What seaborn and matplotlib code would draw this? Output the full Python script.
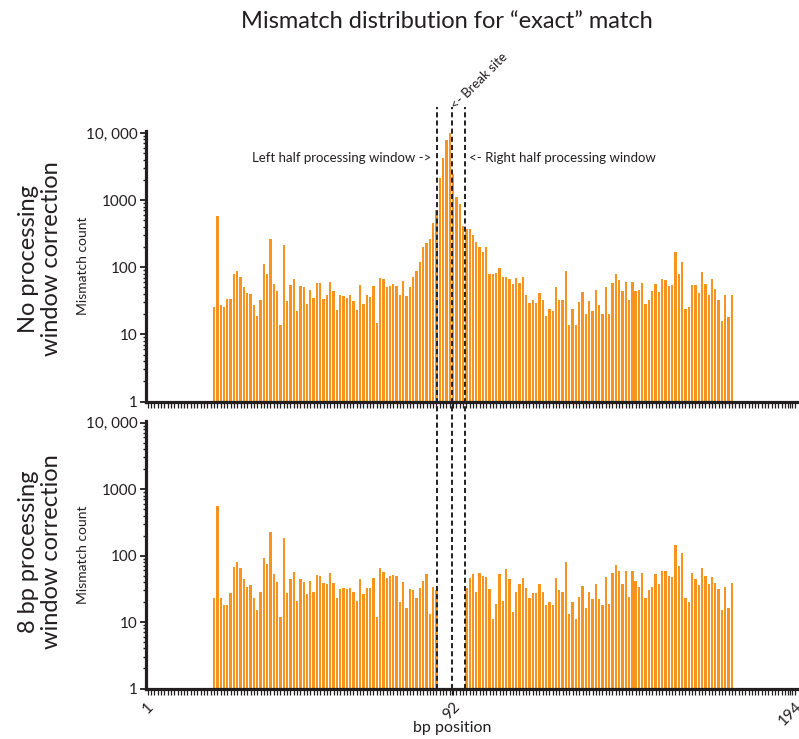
import numpy as np
import pandas as pd
import matplotlib
matplotlib.use("Agg")
import matplotlib.pyplot as plt
import matplotlib.transforms as mtransforms
from matplotlib.lines import Line2D
from matplotlib.ticker import FixedLocator, FixedFormatter, MultipleLocator, LogLocator, NullFormatter
import seaborn as sns

# ---------------- data ----------------
TITLE = "Mismatch distribution for \u201cexact\u201d match"
FIRST_POS = 21  # first bp position with a bar

# no processing window correction: positions 21..177
TOP_COUNTS = [
    26, 575, 27, 26, 34, 34, 78, 88, 72, 51,
    41, 40, 27, 19, 32, 112, 80, 260, 57, 45,
    14, 211, 31, 54, 66, 22, 52, 50, 28, 46,
    35, 59, 59, 34, 38, 61, 45, 23, 39, 37,
    35, 38, 31, 23, 55, 28, 38, 36, 52, 15,
    68, 67, 50, 53, 57, 53, 39, 63, 37, 51,
    71, 88, 120, 200, 228, 265, 457, 717, 2160, 4200,
    7940, 10000, 2480, 1110, 870, 407, 375, 375, 300, 237,
    200, 168, 198, 80, 80, 83, 98, 71, 72, 67,
    57, 69, 59, 72, 38, 29, 32, 29, 41, 32,
    19, 24, 22, 51, 32, 32, 88, 14, 24, 14,
    30, 43, 20, 31, 22, 46, 27, 20, 50, 20,
    58, 80, 65, 45, 60, 32, 60, 45, 46, 59,
    28, 32, 45, 57, 43, 67, 64, 52, 54, 170,
    78, 119, 24, 26, 55, 54, 42, 86, 56, 38,
    66, 47, 32, 16, 38, 18, 39,
]

# 8 bp processing window correction: positions 21..88 and 97..177
BOTTOM_LEFT_COUNTS = [
    23, 562, 23, 18, 18, 27, 68, 79, 65, 45,
    34, 36, 23, 15, 28, 92, 75, 225, 52, 40,
    12, 182, 27, 45, 56, 21, 44, 40, 26, 41,
    28, 51, 50, 39, 37, 54, 39, 23, 31, 33,
    31, 32, 28, 21, 45, 26, 33, 32, 46, 12,
    65, 56, 46, 50, 51, 50, 20, 40, 16, 31,
    30, 23, 32, 42, 53, 13, 34, 30,
]
BOTTOM_RIGHT_START = 97
BOTTOM_RIGHT_COUNTS = [
    32, 46, 53, 28, 54, 49, 48, 31, 11, 19,
    52, 21, 63, 45, 14, 28, 37, 46, 32, 23,
    27, 27, 37, 28, 18, 20, 18, 46, 30, 28,
    80, 13, 20, 11, 24, 35, 16, 28, 22, 37,
    22, 18, 48, 19, 55, 71, 58, 38, 58, 24,
    58, 41, 34, 55, 23, 30, 34, 53, 37, 59,
    58, 49, 47, 145, 70, 110, 23, 20, 55, 45,
    36, 65, 50, 37, 48, 39, 31, 15, 34, 16, 39,
]

WINDOW_LINES = [88.2, 92.6, 96.6]       # left window edge, break site, right window edge
XTICK_POS = [1, 92.6, 194.5]
XTICK_LABELS = ["1", "92", "194"]
YTICKS = [1, 10, 100, 1000, 10000]
YTICK_LABELS = ["1", "10", "100", "1000", "10, 000"]
PANEL_LABELS = ["No processing\nwindow correction", "8 bp processing\nwindow correction"]

top_df = pd.DataFrame({"pos": np.arange(FIRST_POS, FIRST_POS + len(TOP_COUNTS)),
                       "count": TOP_COUNTS})
bot_df = pd.DataFrame({
    "pos": np.concatenate([np.arange(FIRST_POS, FIRST_POS + len(BOTTOM_LEFT_COUNTS)),
                           np.arange(BOTTOM_RIGHT_START, BOTTOM_RIGHT_START + len(BOTTOM_RIGHT_COUNTS))]),
    "count": BOTTOM_LEFT_COUNTS + BOTTOM_RIGHT_COUNTS,
})

# ---------------- style ----------------
sns.set_style("ticks")
FONT = ["Lato", "DejaVu Sans"]
plt.rcParams["font.family"] = FONT
INK = "#231F20"
ORANGE = "#F7931E"

W, H = 799, 739
fig = plt.figure(figsize=(W / 100, H / 100), dpi=100)

def frac_box(left, top, right, bottom):
    return [left / W, 1 - bottom / H, (right - left) / W, (bottom - top) / H]

ax1 = fig.add_axes(frac_box(146, 130.7, 797, 401.5))
ax2 = fig.add_axes(frac_box(146, 420.5, 797, 688.5))

for ax, df in ((ax1, top_df), (ax2, bot_df)):
    sns.barplot(data=df, x="pos", y="count", native_scale=True, color=ORANGE,
                saturation=1, width=0.7, errorbar=None, linewidth=0, ax=ax)
    ax.set_yscale("log")
    ax.set_ylim(1, 10800)
    ax.set_xlim(0.5, 196.6)
    for s in ("top", "right"):
        ax.spines[s].set_visible(False)
    for s in ("left", "bottom"):
        ax.spines[s].set_linewidth(2.3)
        ax.spines[s].set_color(INK)
    ax.yaxis.set_major_locator(FixedLocator(YTICKS))
    ax.yaxis.set_major_formatter(FixedFormatter(YTICK_LABELS))
    ax.yaxis.set_minor_locator(LogLocator(base=10, subs=np.arange(2, 10)))
    ax.yaxis.set_minor_formatter(NullFormatter())
    ax.tick_params(axis="y", which="major", direction="out", length=4, width=1.3,
                   color=INK, labelsize=11, labelcolor=INK, pad=2)
    ax.tick_params(axis="y", which="minor", direction="out", length=2.5, width=1.0, color=INK)
    ax.xaxis.set_major_locator(FixedLocator(XTICK_POS))
    ax.xaxis.set_minor_locator(MultipleLocator(1))
    ax.tick_params(axis="x", which="both", direction="out", length=4, width=0.9, color=INK)
    ax.set_ylabel("Mismatch count", fontsize=10, color=INK)
    ax.yaxis.set_label_coords(-0.088, 0.5)

ax1.set_xticklabels([])
ax1.set_xlabel("")
ax2.set_xticklabels(XTICK_LABELS, rotation=45, ha="center", va="top", fontsize=11, color=INK)
ax2.tick_params(axis="x", which="major", pad=4)
ax2.set_xlabel("bp position", fontsize=11.5, color=INK)
ax2.xaxis.set_label_coords(0.47, -0.122)

# dashed window / break-site lines spanning both panels
trans = mtransforms.blended_transform_factory(ax2.transData, fig.transFigure)
for xv in WINDOW_LINES:
    fig.add_artist(Line2D([xv, xv], [1 - 688.5 / H, 1 - 107 / H], transform=trans,
                          color=INK, lw=1.4, linestyle=(0, (2.6, 1.6))))

# texts
fig.text(447 / W, 1 - 22 / H, TITLE, ha="center", va="center", fontsize=17, color=INK)
fig.text(431 / W, 1 - 158 / H, "Left half processing window ->", ha="right", va="center",
         fontsize=9.5, color=INK)
fig.text(469 / W, 1 - 158 / H, "<- Right half processing window", ha="left", va="center",
         fontsize=9.5, color=INK)
fig.text(457 / W, 1 - 111 / H, "<- Break site", ha="left", va="bottom", rotation=45,
         rotation_mode="anchor", fontsize=9.5, color=INK)
fig.text(40 / W, 1 - 259 / H, PANEL_LABELS[0], ha="center", va="center", rotation=90,
         fontsize=17, color=INK, multialignment="center", linespacing=1.15)
fig.text(40 / W, 1 - 552 / H, PANEL_LABELS[1], ha="center", va="center", rotation=90,
         fontsize=17, color=INK, multialignment="center", linespacing=1.15)

fig.savefig("out.png", dpi=100)
